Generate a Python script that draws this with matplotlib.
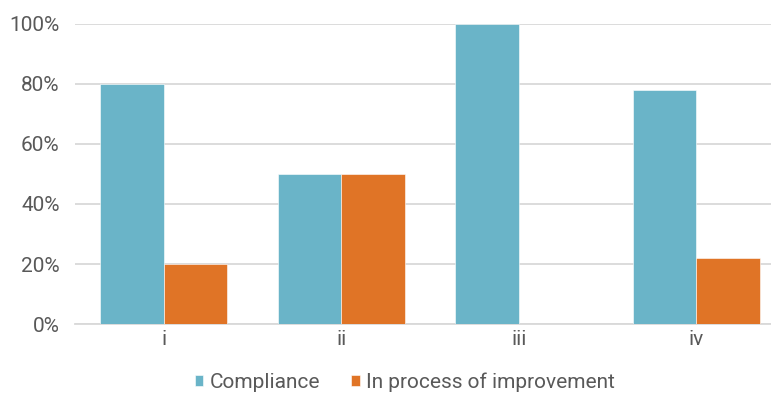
import matplotlib
matplotlib.use("Agg")
import matplotlib.pyplot as plt
import numpy as np
from matplotlib.ticker import FuncFormatter

categories = ["i", "ii", "iii", "iv"]
compliance = [80, 50, 100, 77.8]
improvement = [20, 50, 0, 22.2]
series_names = ["Compliance", "In process of improvement"]
colors = ["#6AB4C8", "#E07426"]

plt.rcParams["font.family"] = ["Roboto", "DejaVu Sans"]

fig = plt.figure(figsize=(7.71, 3.94), dpi=100)
# axes runs slightly past the right edge of the canvas
ax = fig.add_axes([75 / 771, 1 - 324.3 / 394, 710 / 771, 300.8 / 394])

x = np.arange(len(categories))
w = 0.358
ax.bar(x - w / 2, compliance, w, color=colors[0], label=series_names[0],
       edgecolor="white", linewidth=0.4, zorder=3)
ax.bar(x + w / 2, improvement, w, color=colors[1], label=series_names[1],
       edgecolor="white", linewidth=0.4, zorder=3)

ax.set_xlim(-0.5, len(categories) - 0.5)
ax.set_ylim(0, 100)
ax.set_yticks(np.arange(0, 101, 20))
ax.yaxis.set_major_formatter(FuncFormatter(lambda v, p: f"{int(v)}%"))
ax.set_xticks(x)
ax.set_xticklabels(categories)

ax.grid(axis="y", color="#D9D9D9", linewidth=1.3, zorder=0)
for s in ["top", "right", "left"]:
    ax.spines[s].set_visible(False)
ax.spines["bottom"].set_color("#D9D9D9")
ax.spines["bottom"].set_linewidth(1.3)
ax.tick_params(axis="both", length=0, labelsize=15, colors="#595959", pad=11)
ax.tick_params(axis="x", pad=4)

fig.legend(loc="center", bbox_to_anchor=(405 / 771, 1 - 382 / 394), ncol=2,
           frameon=False, fontsize=15, labelcolor="#595959",
           handlelength=0.42, handleheight=0.42, handletextpad=0.3,
           columnspacing=1.5)

fig.savefig("out.png", dpi=100)
